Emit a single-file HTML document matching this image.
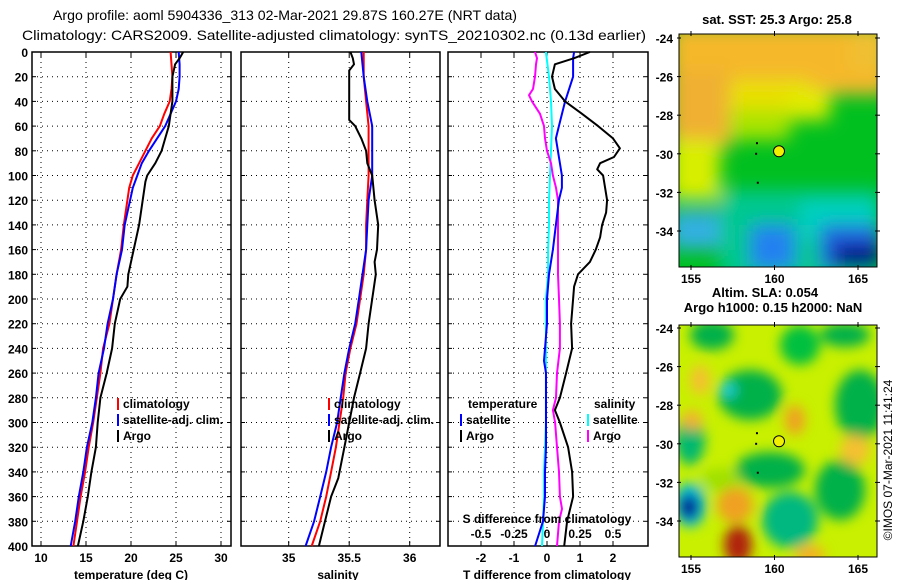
<!DOCTYPE html>
<html><head><meta charset="utf-8"><style>
html,body{margin:0;padding:0;background:#fff;}
svg{display:block;font-family:"Liberation Sans",Arial,sans-serif;}
.t{font-size:14px;fill:#000;}
.b{font-size:12px;font-weight:bold;fill:#000;}
.mt{font-size:13px;font-weight:bold;fill:#000;}
.grid{stroke:#000;stroke-width:1;stroke-dasharray:1,4;}
</style></head><body>
<svg id="chart" width="900" height="580" viewBox="0 0 900 580" xmlns="http://www.w3.org/2000/svg">
<defs>
<filter id="bl" x="-30%" y="-30%" width="160%" height="160%"><feGaussianBlur stdDeviation="9"/></filter>
<filter id="bl2" x="-30%" y="-30%" width="160%" height="160%"><feGaussianBlur stdDeviation="6"/></filter>
<clipPath id="c1"><rect x="679" y="34" width="198" height="233"/></clipPath>
<clipPath id="c2"><rect x="679" y="325" width="198" height="232"/></clipPath>
</defs>
<text class="t" x="285" y="20" text-anchor="middle" textLength="464" lengthAdjust="spacingAndGlyphs">Argo profile: aoml 5904336_313 02-Mar-2021 29.87S 160.27E (NRT data)</text>
<text class="t" x="334" y="40" text-anchor="middle" textLength="624" lengthAdjust="spacingAndGlyphs">Climatology: CARS2009. Satellite-adjusted climatology: synTS_20210302.nc (0.13d earlier)</text>
<g id="panels"></g>

<g clip-path="url(#c1)">
<rect x="679" y="34" width="198" height="233" fill="#00c020"/>
<g filter="url(#bl)">
<rect x="670" y="25" width="220" height="70" fill="#f5b82a"/>
<rect x="670" y="80" width="140" height="40" fill="#e8e000"/>
<rect x="670" y="70" width="60" height="80" fill="#f0b030"/>
<rect x="670" y="140" width="50" height="60" fill="#d8ee00"/>
<rect x="730" y="110" width="60" height="30" fill="#a8e400"/>
<rect x="850" y="30" width="40" height="40" fill="#f0c030"/>
<rect x="790" y="90" width="40" height="30" fill="#e0ec00"/>
<rect x="720" y="190" width="160" height="90" fill="#00c890"/>
<rect x="800" y="200" width="80" height="40" fill="#00d0c0"/>
<rect x="670" y="210" width="50" height="40" fill="#30b0e0"/>
<rect x="750" y="225" width="45" height="45" fill="#2080f0"/>
<rect x="820" y="225" width="60" height="45" fill="#2060e0"/>
<rect x="835" y="245" width="45" height="25" fill="#000080"/>
</g>
</g>
<rect x="679" y="34" width="198" height="233" fill="none" stroke="#000"/>
<g clip-path="url(#c2)">
<rect x="679" y="325" width="198" height="232" fill="#c8f000"/>
<g filter="url(#bl2)">
<ellipse cx="712" cy="335" rx="22" ry="15" fill="#00b048"/>
<ellipse cx="750" cy="395" rx="32" ry="25" fill="#00b048"/>
<ellipse cx="728" cy="390" rx="8" ry="7" fill="#20d0e0"/>
<ellipse cx="800" cy="345" rx="20" ry="20" fill="#00c040"/>
<ellipse cx="845" cy="335" rx="25" ry="12" fill="#00b048"/>
<ellipse cx="860" cy="405" rx="25" ry="35" fill="#00b048"/>
<ellipse cx="690" cy="440" rx="15" ry="25" fill="#00b870"/>
<ellipse cx="770" cy="470" rx="35" ry="18" fill="#00b048"/>
<ellipse cx="840" cy="490" rx="25" ry="30" fill="#00b048"/>
<ellipse cx="790" cy="520" rx="28" ry="28" fill="#00b880"/>
<ellipse cx="720" cy="480" rx="20" ry="12" fill="#a0e000"/>
<ellipse cx="690" cy="505" rx="16" ry="22" fill="#00c0e0"/>
<ellipse cx="689" cy="507" rx="10" ry="13" fill="#000090"/>
<ellipse cx="692" cy="420" rx="10" ry="10" fill="#f5b030"/>
<ellipse cx="700" cy="380" rx="10" ry="15" fill="#f5c030"/>
<ellipse cx="795" cy="420" rx="10" ry="15" fill="#f0a020"/>
<ellipse cx="735" cy="505" rx="18" ry="18" fill="#f0a020"/>
<ellipse cx="738" cy="545" rx="14" ry="20" fill="#b02010"/>
<ellipse cx="810" cy="555" rx="15" ry="10" fill="#f5b020"/>
<ellipse cx="855" cy="450" rx="15" ry="15" fill="#f5c030"/>
</g>
</g>
<rect x="679" y="325" width="198" height="232" fill="none" stroke="#000"/>
<text class="mt" x="777" y="24" text-anchor="middle">sat. SST: 25.3 Argo: 25.8</text>
<text class="mt" x="765" y="297" text-anchor="middle">Altim. SLA: 0.054</text>
<text class="mt" x="773" y="312" text-anchor="middle">Argo h1000: 0.15 h2000: NaN</text>
<text class="t" transform="translate(892,460) rotate(-90)" text-anchor="middle" style="font-size:12px">©IMOS 07-Mar-2021 11:41:24</text>
<g id="maps"></g>
</svg>
<script>
// ---------- data ----------
var tDepth = [0,10,20,30,40,50,60,70,80,90,100,110,120,140,160,180,200,220,240,260,280,300,320,340,360,380,400];
var tClim = [24.4,24.5,24.6,24.5,24.3,23.7,23.2,22.3,21.6,20.9,20.2,19.8,19.6,19.2,18.9,18.4,18.0,17.6,16.9,16.6,16.2,15.8,15.3,14.9,14.4,14.0,13.6];
var tSat = [25.3,25.4,25.4,25.3,25.0,24.4,23.8,22.9,22.0,21.2,20.7,20.2,19.9,19.3,19.0,18.4,18.0,17.4,17.0,16.4,16.1,15.7,15.1,14.7,14.2,13.8,13.3];
var argoDepth = [0,5,10,20,40,60,70,80,90,100,105,120,140,160,180,190,200,220,240,260,280,300,320,340,360,380,400];
var tArgo = [25.8,25.4,24.9,24.6,24.6,24.2,23.8,23.4,22.7,21.8,21.6,21.3,20.9,20.3,19.7,19.6,18.8,18.2,17.9,17.3,16.6,16.3,16.1,15.6,15.2,14.7,14.1];
var sDepth = [0,20,40,60,80,100,120,140,160,180,200,220,240,260,280,300,320,340,360,380,400];
var sClim = [35.62,35.62,35.64,35.66,35.66,35.66,35.65,35.64,35.64,35.62,35.59,35.56,35.51,35.47,35.45,35.42,35.39,35.35,35.31,35.26,35.19];
var sSat = [35.60,35.62,35.65,35.69,35.69,35.69,35.66,35.65,35.64,35.61,35.58,35.55,35.50,35.46,35.43,35.40,35.35,35.31,35.26,35.21,35.14];
var sArgoDepth = [0,5,10,15,20,55,60,70,80,90,100,120,140,160,170,180,200,220,240,260,280,300,320,340,345,360,380,400];
var sArgo = [35.51,35.53,35.54,35.50,35.50,35.50,35.55,35.60,35.64,35.65,35.69,35.71,35.74,35.73,35.71,35.72,35.69,35.66,35.64,35.59,35.54,35.50,35.46,35.42,35.41,35.35,35.30,35.25];
var dTsatDepth = [0,5,20,40,60,70,80,100,110,120,140,160,180,200,220,240,250,260,280,300,320,340,360,380,400];
var dTsat = [0.82,0.79,0.79,0.55,0.36,0.27,0.33,0.45,0.45,0.36,0.27,0.18,0.06,0,0,-0.06,-0.09,-0.03,-0.03,-0.03,-0.03,-0.06,-0.06,-0.12,-0.36];
var dTargoDepth = [0,5,10,20,30,40,50,60,70,78,85,90,95,100,110,120,130,140,150,160,170,180,190,200,220,240,260,280,290,300,320,340,360,380,400];
var dTargo = [1.30,0.82,0.24,0.15,0.24,0.55,1.06,1.55,2.0,2.21,2.03,1.61,1.52,1.70,1.76,1.82,1.79,1.67,1.61,1.48,1.30,0.94,0.82,0.79,0.73,0.76,0.58,0.39,0.24,0.39,0.64,0.76,0.79,0.61,0.52];
var dSsat = [-0.008,0.015,0.03,0.038,0.03,0.023,0.015,0.015,0.008,0.008,-0.008,-0.008,-0.008,-0.008,-0.008,-0.008,-0.015,-0.023,-0.023,-0.03,-0.038];
var dSargoDepth = [0,5,10,20,30,35,40,50,60,70,80,90,100,110,120,140,160,180,200,220,240,260,280,290,300,320,340,360,370,380,400];
var dSargo = [-0.091,-0.076,-0.083,-0.091,-0.106,-0.136,-0.114,-0.053,-0.023,-0.015,0,0.03,0.045,0.068,0.083,0.083,0.083,0.083,0.091,0.098,0.098,0.076,0.068,0.045,0.061,0.076,0.091,0.098,0.114,0.091,0.076];
var depthTicks = [0,20,40,60,80,100,120,140,160,180,200,220,240,260,280,300,320,340,360,380,400];
var tTicks = [10,15,20,25,30];
var sTicks = [35,35.5,36];
var dtTicks = [-2,-1,0,1,2];
var dsTicks = [-0.5,-0.25,0,0.25,0.5];
var dsTickLabels = ['-0.5','-0.25','0','0.25','0.5'];
var latTicks = [-24,-26,-28,-30,-32,-34];
var lonTicks = [155,160,165];
var argoLon = 160.27, argoLat = -29.87;
var nearbyLon = [158.95,158.9,159.0], nearbyLat = [-29.45,-30.0,-31.5];

// ---------- helpers ----------
var NS='http://www.w3.org/2000/svg';
var root=document.getElementById('panels');
function mk(tag,attrs,parent){var e=document.createElementNS(NS,tag);for(var k in attrs)e.setAttribute(k,attrs[k]);(parent||root).appendChild(e);return e;}
var Y0=52,Y1=546;
function yD(d){return Y0+(Y1-Y0)*d/400;}
var panels=[
 {x0:32,x1:231,name:'temperature-panel',f:function(v){return 41+9*(v-10);}},
 {x0:241,x1:440,name:'salinity-panel',f:function(v){return 288.7+121*(v-35);}},
 {x0:448,x1:648,name:'difference-panel',f:function(v){return 547+33*v;}}
];
var fS=function(v){return 547+132*v;};
function line(xs,ds,fx,color,w,name){
  var p='';for(var i=0;i<xs.length;i++)p+=(i?'L':'M')+fx(xs[i]).toFixed(1)+' '+yD(ds[i]).toFixed(1);
  var e=mk('path',{d:p,fill:'none',stroke:color,'stroke-width':w,'stroke-linejoin':'round'});
  
  
}
function txt(x,y,s,cls,anchor,name){var e=mk('text',{x:x,y:y,'class':cls,'text-anchor':anchor||'start'});e.textContent=s;
  
  return e;}

panels.forEach(function(P,pi){
  var g=mk('rect',{x:P.x0,y:Y0,width:P.x1-P.x0,height:Y1-Y0,fill:'none',stroke:'#000','stroke-width':1.5});
  
  
  depthTicks.forEach(function(d){
    if(d>0&&d<400){var l=mk('line',{x1:P.x0,x2:P.x1,y1:yD(d),y2:yD(d),'class':'grid'});
    
    }
    mk('line',{x1:P.x0,x2:P.x0+4,y1:yD(d),y2:yD(d),stroke:'#000'});
    mk('line',{x1:P.x1,x2:P.x1-4,y1:yD(d),y2:yD(d),stroke:'#000'});
  });
  var ticks=pi==0?tTicks:pi==1?sTicks:dtTicks;
  ticks.forEach(function(t){var x=P.f(t);
    var l=mk('line',{x1:x,x2:x,y1:Y0,y2:Y1,'class':'grid'});
    
    
    mk('line',{x1:x,x2:x,y1:Y0,y2:Y0+5,stroke:'#000'});
    mk('line',{x1:x,x2:x,y1:Y1,y2:Y1-5,stroke:'#000'});
    txt(x,562,String(t),'b','middle','x-tick-label');
  });
});
depthTicks.forEach(function(d){txt(28,yD(d)+5,String(d),'b','end','depth-tick-label');});
txt(131,579,'temperature (deg C)','b','middle','x-axis-title-temperature');
txt(338,579,'salinity','b','middle','x-axis-title-salinity');
txt(547,579,'T difference from climatology','b','middle','x-axis-title-tdiff');

var P0=panels[0].f,P1=panels[1].f,P2=panels[2].f;
line(tClim,tDepth,P0,'#f00',2,'temperature-climatology-line');
line(tSat,tDepth,P0,'#00f',2,'temperature-satellite-line');
line(tArgo,argoDepth,P0,'#000',2,'temperature-argo-line');
line(sClim,sDepth,P1,'#f00',2,'salinity-climatology-line');
line(sSat,sDepth,P1,'#00f',2,'salinity-satellite-line');
line(sArgo,sArgoDepth,P1,'#000',2,'salinity-argo-line');
line(dSsat,sDepth,fS,'#0ff',2,'salinity-diff-satellite-line');
line(dSargo,dSargoDepth,fS,'#f0f',2,'salinity-diff-argo-line');
line(dTsat,dTsatDepth,P2,'#00f',2,'temperature-diff-satellite-line');
line(dTargo,dTargoDepth,P2,'#000',2,'temperature-diff-argo-line');

function leg(x,y,c,s,name){mk('rect',{x:x,y:y-10,width:2,height:12,fill:c});txt(x+6,y,s,'b','start',name);}
leg(117,408,'#f00','climatology','legend-climatology');
leg(117,424,'#00f','satellite-adj. clim.','legend-satellite');
leg(117,440,'#000','Argo','legend-argo');
leg(328,408,'#f00','climatology','legend-climatology-2');
leg(328,424,'#00f','satellite-adj. clim.','legend-satellite-2');
leg(328,440,'#000','Argo','legend-argo-2');
txt(468,408,'temperature','b','start','legend-temperature-heading');
leg(460,424,'#00f','satellite','legend-t-satellite');
leg(460,440,'#000','Argo','legend-t-argo');
txt(594,408,'salinity','b','start','legend-salinity-heading');
leg(587,424,'#0ff','satellite','legend-s-satellite');
leg(587,440,'#f0f','Argo','legend-s-argo');
txt(547,523,'S difference from climatology','b','middle','s-diff-axis-title');
dsTicks.forEach(function(t,i){txt(fS(t),538,dsTickLabels[i],'b','middle','s-diff-tick-label');});

var mroot=document.getElementById('maps');
[{y0:38,top:34,bot:267,ly:283,n:'sst'},{y0:328,top:325,bot:557,ly:573,n:'sla'}].forEach(function(M){
  function mx(lon){return 691+(lon-155)*16.7;}
  function my(lat){return M.y0+(-24-lat)*19.3;}
  latTicks.forEach(function(l){var y=my(l);
    mk('line',{x1:677,x2:681,y1:y,y2:y,stroke:'#000'},mroot);
    mk('line',{x1:875,x2:880,y1:y,y2:y,stroke:'#000'},mroot);
    var e=mk('text',{x:673,y:y+5,'class':'b','text-anchor':'end'},mroot);e.textContent=String(l);
    
    });
  lonTicks.forEach(function(l){var x=mx(l);
    mk('line',{x1:x,x2:x,y1:M.top-3,y2:M.top+2,stroke:'#000'},mroot);
    mk('line',{x1:x,x2:x,y1:M.bot-2,y2:M.bot+3,stroke:'#000'},mroot);
    var e=mk('text',{x:x,y:M.ly,'class':'b','text-anchor':'middle'},mroot);e.textContent=String(l);
    
    });
  for(var i=0;i<nearbyLon.length;i++){var d=mk('rect',{x:mx(nearbyLon[i])-1,y:my(nearbyLat[i])-1,width:2,height:2,fill:'#000'},mroot);
    
    }
  var c=mk('circle',{cx:mx(argoLon),cy:my(argoLat),r:5.5,fill:'#f0f000',stroke:'#000','stroke-width':1},mroot);
  
  
});
</script>
</body></html>
